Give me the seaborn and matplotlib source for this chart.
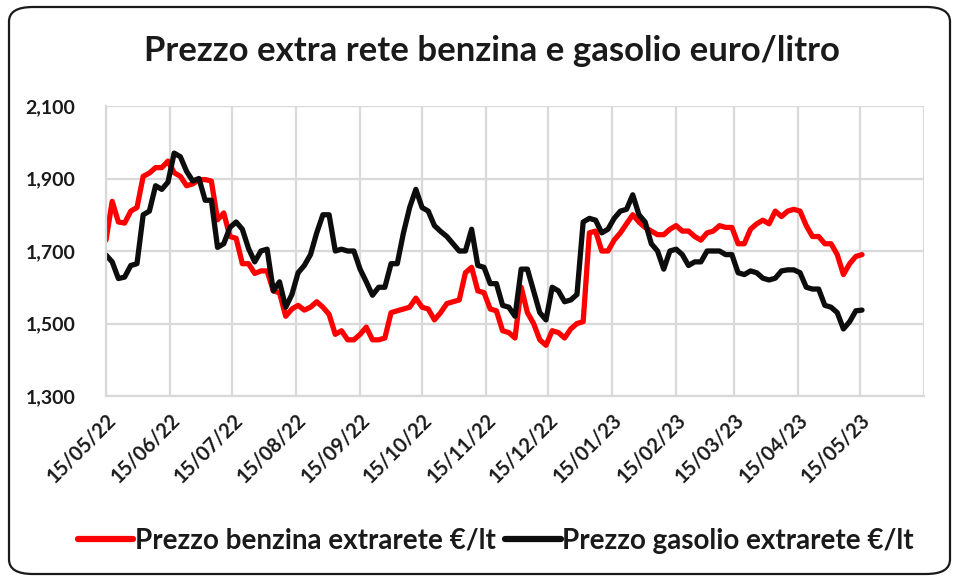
import matplotlib
matplotlib.use("Agg")
import matplotlib.pyplot as plt
import matplotlib.ticker as mtick
from matplotlib.patches import FancyBboxPatch
import pandas as pd
import seaborn as sns

# ── data (one value every 3 days from 15/05/22) ──────────────────────────────
START = "2022-05-15"
STEP = "3D"

benzina = [
    1.73, 1.837, 1.78, 1.777, 1.81, 1.82, 1.906, 1.915, 1.93, 1.93, 1.948, 1.916, 1.906,
    1.88, 1.885, 1.897, 1.897, 1.893, 1.786, 1.805, 1.74, 1.735, 1.665, 1.665, 1.638,
    1.645, 1.645, 1.59, 1.585, 1.52, 1.54, 1.55, 1.537, 1.545, 1.56, 1.545, 1.525, 1.47,
    1.48, 1.455, 1.455, 1.47, 1.49, 1.455, 1.455, 1.46, 1.53, 1.535, 1.54, 1.545,
    1.57, 1.545, 1.54, 1.51, 1.53, 1.555, 1.56, 1.565, 1.64, 1.655, 1.59, 1.585, 1.54,
    1.535, 1.48, 1.475, 1.46, 1.60, 1.53, 1.50, 1.455, 1.44, 1.48, 1.475, 1.46,
    1.485, 1.50, 1.505, 1.75, 1.755, 1.70, 1.70, 1.73, 1.75, 1.775, 1.80, 1.78, 1.765,
    1.755, 1.745, 1.745, 1.76, 1.77, 1.755, 1.755, 1.74, 1.73, 1.75, 1.755, 1.77,
    1.765, 1.765, 1.72, 1.72, 1.76, 1.775, 1.785, 1.775, 1.81, 1.795, 1.81, 1.815, 1.81,
    1.77, 1.74, 1.74, 1.72, 1.72, 1.69, 1.635, 1.665, 1.685, 1.69,
]

gasolio = [
    1.689, 1.67, 1.624, 1.628, 1.66, 1.665, 1.80, 1.81, 1.88, 1.87, 1.89, 1.97, 1.96,
    1.92, 1.893, 1.90, 1.84, 1.84, 1.71, 1.72, 1.765, 1.78, 1.76, 1.707, 1.67,
    1.70, 1.705, 1.59, 1.615, 1.545, 1.58, 1.64, 1.66, 1.69, 1.75, 1.80, 1.80, 1.70,
    1.705, 1.70, 1.70, 1.65, 1.615, 1.578, 1.60, 1.60, 1.665, 1.665, 1.75, 1.82,
    1.87, 1.82, 1.81, 1.77, 1.754, 1.74, 1.72, 1.70, 1.70, 1.76, 1.66, 1.655, 1.61,
    1.61, 1.55, 1.545, 1.52, 1.65, 1.65, 1.59, 1.53, 1.51, 1.60, 1.59, 1.56,
    1.565, 1.58, 1.78, 1.79, 1.785, 1.75, 1.76, 1.79, 1.81, 1.815, 1.855, 1.80, 1.78,
    1.72, 1.70, 1.65, 1.70, 1.705, 1.69, 1.66, 1.67, 1.67, 1.70, 1.70, 1.70,
    1.69, 1.69, 1.64, 1.635, 1.645, 1.64, 1.625, 1.62, 1.625, 1.645, 1.648, 1.648, 1.64,
    1.60, 1.595, 1.595, 1.55, 1.545, 1.53, 1.485, 1.505, 1.535, 1.537,
]

SERIES = ["Prezzo benzina extrarete €/lt", "Prezzo gasolio extrarete €/lt"]
COLORS = {SERIES[0]: "#ff0000", SERIES[1]: "#0d0d0d"}
TITLE = "Prezzo extra rete benzina e gasolio euro/litro"
Y_TICKS = [1.3, 1.5, 1.7, 1.9, 2.1]
X_TICKS = pd.date_range("2022-05-01", "2023-06-01", freq="MS") + pd.Timedelta(days=14)
LAST_LABEL = pd.Timestamp("2023-05-15")

dates = pd.date_range(START, periods=len(benzina), freq=STEP)
df = pd.DataFrame({"Data": dates, SERIES[0]: benzina, SERIES[1]: gasolio})
long = df.melt(id_vars="Data", var_name="Serie", value_name="Prezzo")

# ── figure ──────────────────────────────────────────────────────────────────
sns.set_style("white")
plt.rcParams["font.family"] = ["Lato", "DejaVu Sans"]

fig = plt.figure(figsize=(9.59, 5.81), dpi=100)
ax = fig.add_axes([106 / 959, 1 - 396 / 581, (924 - 106) / 959, (396 - 106) / 581])

sns.lineplot(data=long, x="Data", y="Prezzo", hue="Serie", palette=COLORS,
             linewidth=3.8, ax=ax, legend=False)

ax.set_xlim(pd.Timestamp("2022-05-15"), pd.Timestamp("2023-06-15"))
ax.set_ylim(1.3, 2.1)
ax.set_yticks(Y_TICKS)
ax.yaxis.set_major_formatter(mtick.FuncFormatter(lambda v, _: f"{v:.3f}".replace(".", ",")))
ax.set_xticks(X_TICKS)
ax.set_xticklabels([d.strftime("%d/%m/%y") if d <= LAST_LABEL else "" for d in X_TICKS])
ax.set_xlabel("")
ax.set_ylabel("")

GRID = "#d9d9d9"
ax.grid(True, color=GRID, linewidth=1.6)
ax.set_axisbelow(True)
for side in ["top", "right"]:
    ax.spines[side].set_visible(False)
for side in ["left", "bottom"]:
    ax.spines[side].set_color(GRID)
    ax.spines[side].set_linewidth(1.6)

ax.tick_params(axis="y", length=0, pad=22, labelsize=14, labelcolor="#1a1a1a")
ax.tick_params(axis="x", length=6, width=1.6, color=GRID, pad=4, labelsize=14.5,
               labelcolor="#1a1a1a")
for lab in ax.get_yticklabels():
    lab.set_fontweight("bold")
for lab in ax.get_xticklabels():
    lab.set_fontweight("bold")
    lab.set_rotation(45)
    lab.set_ha("right")
    lab.set_rotation_mode("anchor")

fig.text(0.513, 1 - 51 / 581, TITLE, ha="center", va="center",
         fontsize=25, fontweight="bold", color="#1a1a1a")

handles = [plt.Line2D([], [], color=COLORS[s], linewidth=4.5) for s in SERIES]
leg = fig.legend(handles, SERIES, loc="center", bbox_to_anchor=(0.517, 1 - 541 / 581),
                 ncol=2, frameon=False, handlelength=2.0, handletextpad=0.05,
                 columnspacing=0.35, prop={"size": 20, "weight": "bold"})
for t in leg.get_texts():
    t.set_color("#1a1a1a")

border = FancyBboxPatch((9 / 959, 7 / 581), 941 / 959, 567 / 581,
                        boxstyle="round,pad=0,rounding_size=0.025",
                        transform=fig.transFigure, fill=False,
                        edgecolor="#1a1a1a", linewidth=1.6)
fig.patches.append(border)

fig.savefig("out.png", dpi=100)
